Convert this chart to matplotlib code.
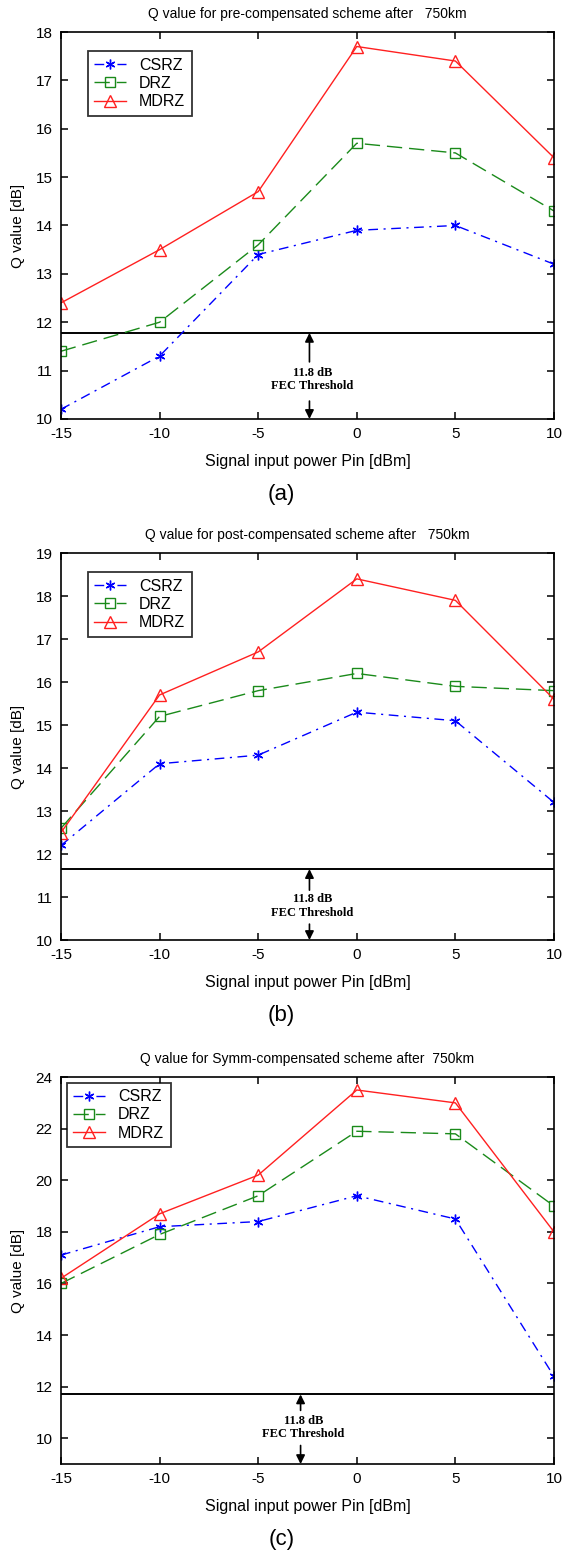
import matplotlib
matplotlib.use('Agg')
import matplotlib.pyplot as plt

plt.rcParams['font.family'] = ['Liberation Sans', 'DejaVu Sans']
plt.rcParams['axes.unicode_minus'] = False

pin = [-15, -10, -5, 0, 5, 10]
series_names = ['CSRZ', 'DRZ', 'MDRZ']

# panel (a): pre-compensated
pre_csrz = [10.2, 11.3, 13.4, 13.9, 14.0, 13.2]
pre_drz = [11.4, 12.0, 13.6, 15.7, 15.5, 14.3]
pre_mdrz = [12.4, 13.5, 14.7, 17.7, 17.4, 15.4]

# panel (b): post-compensated
post_csrz = [12.2, 14.1, 14.3, 15.3, 15.1, 13.2]
post_drz = [12.6, 15.2, 15.8, 16.2, 15.9, 15.8]
post_mdrz = [12.5, 15.7, 16.7, 18.4, 17.9, 15.6]

# panel (c): symmetric compensation
symm_csrz = [17.1, 18.2, 18.4, 19.4, 18.5, 12.4]
symm_drz = [16.0, 17.9, 19.4, 21.9, 21.8, 19.0]
symm_mdrz = [16.2, 18.7, 20.2, 23.5, 23.0, 18.0]

titles = ['Q value for pre-compensated scheme after   750km',
          'Q value for post-compensated scheme after   750km',
          'Q value for Symm-compensated scheme after  750km']
panel_tags = ['(a)', '(b)', '(c)']
threshold_lines = [11.78, 11.65, 11.7]
threshold_label = '11.8 dB\nFEC Threshold'

styles = [
    dict(color='#0000ff', ls=(0, (7, 4, 1.5, 4)), marker=(6, 2, 0), ms=7, mfc='none'),
    dict(color='#1a8a1a', ls=(0, (11, 5)), marker='s', ms=7.5, mfc='none'),
    dict(color='#ff2020', ls='-', marker='^', ms=9, mfc='none'),
]

panels = [
    dict(data=[pre_csrz, pre_drz, pre_mdrz], ylim=(10, 18), yticks=range(10, 19),
         bottom=0.7316, arrow_x=-2.4, up_from=11.18, down_from=10.37, text_y=10.815),
    dict(data=[post_csrz, post_drz, post_mdrz], ylim=(10, 19), yticks=range(10, 20),
         bottom=0.3978, arrow_x=-2.4, up_from=11.16, down_from=10.37, text_y=10.8),
    dict(data=[symm_csrz, symm_drz, symm_mdrz], ylim=(9, 24), yticks=range(10, 25, 2),
         bottom=0.0621, arrow_x=-2.85, up_from=11.08, down_from=9.72, text_y=10.42),
]

fig = plt.figure(figsize=(5.63, 15.61), dpi=100)

for i, p in enumerate(panels):
    ax = fig.add_axes([0.1083, p['bottom'], 0.8757, 0.2479])
    for name, vals, st in zip(series_names, p['data'], styles):
        ax.plot(pin, vals, label=name, lw=1.0, mew=1.0, **st)

    thr = threshold_lines[i]
    ax.axhline(thr, color='black', lw=1.4, zorder=1)
    ax.annotate('', xy=(p['arrow_x'], thr), xytext=(p['arrow_x'], p['up_from']),
                arrowprops=dict(arrowstyle='-|>', color='black', lw=1.2, mutation_scale=13,
                                shrinkA=0, shrinkB=0))
    ax.annotate('', xy=(p['arrow_x'], p['ylim'][0]), xytext=(p['arrow_x'], p['down_from']),
                arrowprops=dict(arrowstyle='-|>', color='black', lw=1.2, mutation_scale=13,
                                shrinkA=0, shrinkB=0))
    ax.text(p['arrow_x'] + 0.15, p['text_y'], threshold_label, ha='center', va='center',
            fontsize=9, fontfamily='Liberation Serif', fontweight='bold', linespacing=1.2)

    ax.set_xlim(-15, 10)
    ax.set_ylim(*p['ylim'])
    ax.set_xticks(pin)
    ax.set_yticks(list(p['yticks']))
    ax.tick_params(direction='in', top=True, right=True, length=5, width=1.1,
                   labelsize=11, pad=6)
    for s in ax.spines.values():
        s.set_linewidth(1.2)

    ax.set_title(titles[i], fontsize=10, pad=10)
    ax.set_xlabel('Signal input power Pin [dBm]', fontsize=11.5, labelpad=9)
    ax.set_ylabel('Q value [dB]', fontsize=11, labelpad=8)

    leg = ax.legend(loc='upper left', fontsize=11.5, handlelength=2.0, frameon=True,
                    fancybox=False, edgecolor='black', borderpad=0.4, labelspacing=0.2,
                    handletextpad=0.8, borderaxespad=0,
                    bbox_to_anchor=(0.055, 0.95) if i < 2 else (0.012, 0.985))
    leg.get_frame().set_linewidth(1.3)

    fig.text(0.5, p['bottom'] - 0.0485, panel_tags[i], ha='center', va='center', fontsize=16)

fig.savefig('out.png', dpi=100)
